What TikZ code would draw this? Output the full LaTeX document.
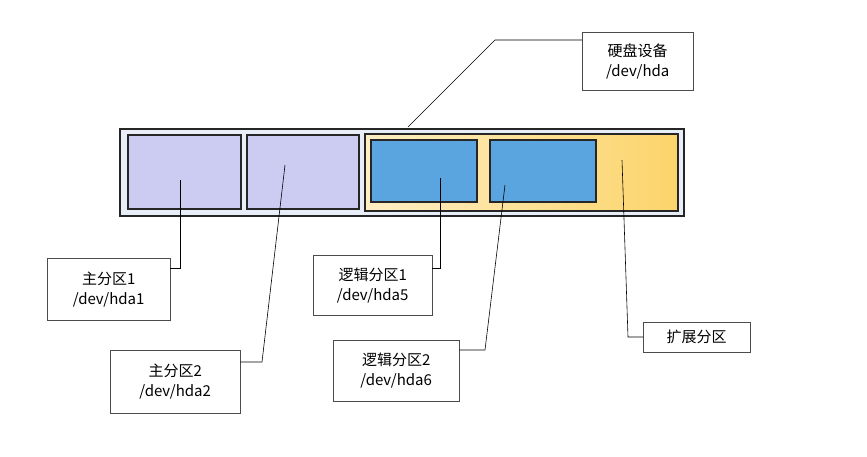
\documentclass[tikz,border=0pt]{standalone}
\usepackage{fontspec}
\setmainfont{Noto Sans CJK SC}
\usetikzlibrary{positioning}
\definecolor{lav}{HTML}{CCCCF2}
\definecolor{lblue}{HTML}{5AA5E0}
\definecolor{ext}{HTML}{FCD46A}
\definecolor{disk}{HTML}{E8EEF8}
\tikzset{
	part/.style={draw=black!85, line width=1.6pt, inner sep=0pt, anchor=north west},
	lbl/.style={draw=black!70, fill=white, align=center, font=\fontsize{15}{20}\selectfont, inner sep=4pt},
	lead/.style={semithick, black}
}
\begin{document}
\begin{tikzpicture}[x=1pt,y=-1pt]
	\useasboundingbox (0,0) rectangle (867,456);
	% disk
	\node[part, line width=2.4pt, fill=disk, minimum width=564pt, minimum height=87pt] (hda) at (119,128) {};
	\node[part, fill=lav, minimum width=113pt, minimum height=74pt] (p1) at (127,134) {};
	\node[part, fill=lav, minimum width=112pt, minimum height=74pt] (p2) at (246,134) {};
	\node[part, line width=2.4pt, left color=ext!40, right color=ext, minimum width=313pt, minimum height=77pt] (p3) at (364,133) {};
	\node[part, fill=lblue, minimum width=106pt, minimum height=62pt] (p5) at (370,139) {};
	\node[part, fill=lblue, minimum width=106pt, minimum height=62pt] (p6) at (489,139) {};

	% labels
	\node[lbl, anchor=north west, minimum width=111pt, minimum height=58pt] (Lhda) at (582,32) {硬盘设备\\/dev/hda};
	\node[lbl, anchor=north west, minimum width=123pt, minimum height=62pt] (L1) at (47,258) {主分区1\\/dev/hda1};
	\node[lbl, anchor=north west, minimum width=130pt, minimum height=63pt] (L2) at (110,350) {主分区2\\/dev/hda2};
	\node[lbl, anchor=north west, minimum width=119pt, minimum height=60pt] (L5) at (313,255) {逻辑分区1\\/dev/hda5};
	\node[lbl, anchor=north west, minimum width=126pt, minimum height=61pt] (L6) at (333,340) {逻辑分区2\\/dev/hda6};
	\node[lbl, anchor=north west, minimum width=107pt, minimum height=30pt] (L3) at (643,322) {扩展分区};

	% leader lines
	\coordinate (a) at (408,127);
	\coordinate (b) at (495,40);
	\draw[lead] (a) -- (b) -- (b -| Lhda.west);
	\coordinate (c1) at (180,180);
	\draw[lead] (c1) -- (180,268) -- (L1.east |- 0,268);
	\coordinate (c2) at (285,165);
	\draw[lead] (c2) -- (262,362) -- (L2.east |- 0,362);
	\coordinate (c5) at (440,178);
	\draw[lead] (c5) -- (440,268) -- (L5.east |- 0,268);
	\coordinate (c6) at (505,185);
	\draw[lead] (c6) -- (485,350) -- (L6.east |- 0,350);
	\coordinate (c3) at (622,160);
	\draw[lead] (c3) -- (628,337) -- (L3.west |- 0,337);
\end{tikzpicture}
\end{document}
